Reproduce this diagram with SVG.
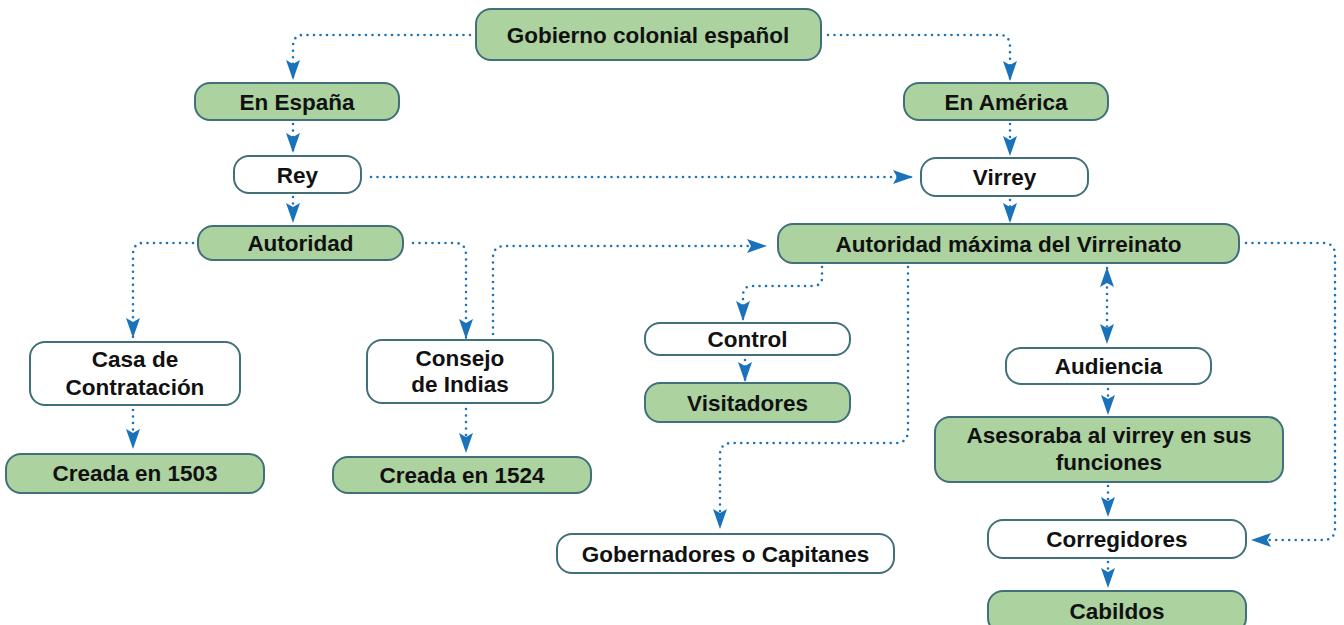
<svg xmlns="http://www.w3.org/2000/svg" width="1344" height="625" viewBox="0 0 1344 625">
<style>
.g{fill:#acd2a0;stroke:#41707a;stroke-width:2}
.w{fill:#ffffff;stroke:#41707a;stroke-width:2}
text{font-family:"Liberation Sans",Arial,sans-serif;font-weight:bold;font-size:22.5px;fill:#111;text-anchor:middle}
.c{fill:none;stroke:#1a72bb;stroke-width:2.6;stroke-dasharray:0 6.5;stroke-linecap:round}
</style>
<defs>
<marker id="a" markerUnits="userSpaceOnUse" markerWidth="20" markerHeight="14" refX="19" refY="7" orient="auto" viewBox="0 0 20 14">
<path d="M0,0 L20,7 L0,14 L4,7 Z" fill="#1a72bb"/>
</marker>
<marker id="s" markerUnits="userSpaceOnUse" markerWidth="20" markerHeight="14" refX="1" refY="7" orient="auto" viewBox="0 0 20 14">
<path d="M20,0 L0,7 L20,14 L16,7 Z" fill="#1a72bb"/>
</marker>
</defs>
<g id="connectors">
<path class="c" d="M470,35 H303 Q293,35 293,47 V79" marker-end="url(#a)"/>
<path class="c" d="M828,35 H1000 Q1010,35 1010,47 V80" marker-end="url(#a)"/>
<path class="c" d="M293,124 V152" marker-end="url(#a)"/>
<path class="c" d="M1010,124 V155" marker-end="url(#a)"/>
<path class="c" d="M371,177 H912" marker-end="url(#a)"/>
<path class="c" d="M293,197 V222" marker-end="url(#a)"/>
<path class="c" d="M1010,200 V222" marker-end="url(#a)"/>
<path class="c" d="M193,243 H143 Q133,243 133,255 V337" marker-end="url(#a)"/>
<path class="c" d="M413,243 H455 Q466,243 466,255 V338" marker-end="url(#a)"/>
<path class="c" d="M493,334 V258 Q493,246 505,246 H766" marker-end="url(#a)"/>
<path class="c" d="M133,410 V448" marker-end="url(#a)"/>
<path class="c" d="M466,409 V452" marker-end="url(#a)"/>
<path class="c" d="M822,267 V278 Q822,286 812,286 H752 Q743,286 743,296 V320" marker-end="url(#a)"/>
<path class="c" d="M745,360 V381" marker-end="url(#a)"/>
<path class="c" d="M908,267 V430 Q908,443 896,443 H732 Q720,443 720,455 V528" marker-end="url(#a)"/>
<path class="c" d="M1107,268 V343" marker-start="url(#s)" marker-end="url(#a)"/>
<path class="c" d="M1108,389 V414" marker-end="url(#a)"/>
<path class="c" d="M1108,486 V516" marker-end="url(#a)"/>
<path class="c" d="M1108,562 V587" marker-end="url(#a)"/>
<path class="c" d="M1246,243 H1323 Q1335,243 1335,255 V528 Q1335,540 1323,540 H1252" marker-end="url(#a)"/>
</g>
<g id="n1"><rect class="g" x="476" y="9" width="345" height="51" rx="15"/><text x="648" y="42.5">Gobierno colonial español</text></g>
<g id="n2"><rect class="g" x="195" y="83" width="204" height="37" rx="15"/><text x="297" y="109.5">En España</text></g>
<g id="n3"><rect class="g" x="904" y="83" width="204" height="37" rx="15"/><text x="1006" y="109.5">En América</text></g>
<g id="n4"><rect class="w" x="234" y="156" width="127" height="37" rx="15"/><text x="297.5" y="183">Rey</text></g>
<g id="n5"><rect class="w" x="921" y="158" width="167" height="38" rx="15"/><text x="1004.5" y="185">Virrey</text></g>
<g id="n6"><rect class="g" x="198" y="226" width="205" height="34" rx="15"/><text x="300.5" y="251">Autoridad</text></g>
<g id="n7"><rect class="g" x="778" y="224" width="461" height="39" rx="15"/><text x="1008.5" y="251.5">Autoridad máxima del Virreinato</text></g>
<g id="n8"><rect class="w" x="30" y="342" width="210" height="63" rx="15"/><text x="135" y="367">Casa de</text><text x="135" y="395">Contratación</text></g>
<g id="n9"><rect class="w" x="367" y="340" width="186" height="63" rx="15"/><text x="460" y="366">Consejo</text><text x="460" y="392">de Indias</text></g>
<g id="n10"><rect class="g" x="6" y="454" width="258" height="39" rx="15"/><text x="135" y="481">Creada en 1503</text></g>
<g id="n11"><rect class="g" x="333" y="457" width="258" height="36" rx="15"/><text x="462" y="483">Creada en 1524</text></g>
<g id="n12"><rect class="w" x="645" y="323" width="205" height="32" rx="15"/><text x="747.5" y="347">Control</text></g>
<g id="n13"><rect class="g" x="645" y="383" width="205" height="39" rx="15"/><text x="747.5" y="411">Visitadores</text></g>
<g id="n14"><rect class="w" x="1006" y="348" width="205" height="36" rx="15"/><text x="1108.5" y="374">Audiencia</text></g>
<g id="n15"><rect class="g" x="935" y="417" width="348" height="65" rx="15"/><text x="1109" y="443">Asesoraba al virrey en sus</text><text x="1109" y="470">funciones</text></g>
<g id="n16"><rect class="w" x="557" y="534" width="337" height="39" rx="15"/><text x="725.5" y="561.5">Gobernadores o Capitanes</text></g>
<g id="n17"><rect class="w" x="988" y="520" width="258" height="38" rx="15"/><text x="1117" y="547">Corregidores</text></g>
<g id="n18"><rect class="g" x="988" y="591" width="258" height="42" rx="15"/><text x="1117" y="619">Cabildos</text></g>
</svg>
